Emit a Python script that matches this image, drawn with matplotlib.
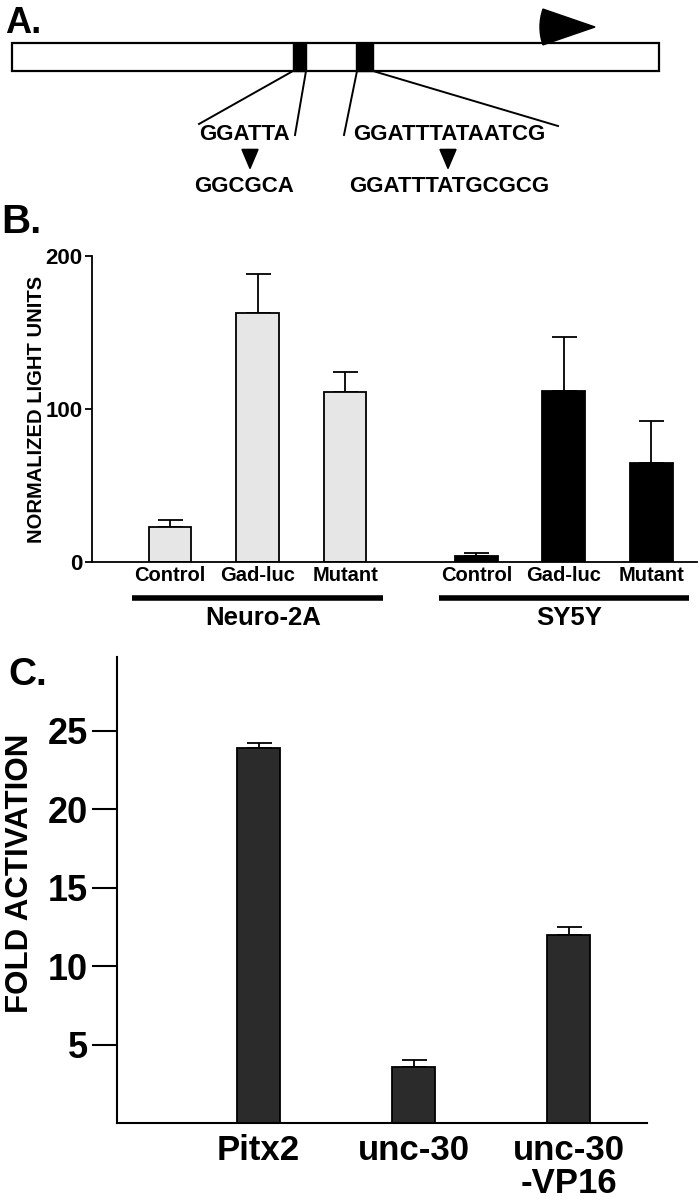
import matplotlib
matplotlib.use("Agg")
import matplotlib.pyplot as plt
import matplotlib.transforms as mtransforms
from matplotlib.patches import Rectangle, Wedge

plt.rcParams["font.family"] = ["Liberation Sans", "DejaVu Sans"]
plt.rcParams["font.weight"] = "bold"

# Panel B data
b_categories = ["Control", "Gad-luc", "Mutant", "Control", "Gad-luc", "Mutant"]
b_values = [23, 163, 111, 4, 112, 65]
b_errors = [4.5, 25, 13, 2, 35, 27]
b_groups = ["Neuro-2A", "SY5Y"]
b_positions = [0, 1, 2, 3.5, 4.5, 5.5]

# Panel C data
c_categories = ["Pitx2", "unc-30", "unc-30\n-VP16"]
c_values = [23.9, 3.6, 12.0]
c_errors = [0.3, 0.4, 0.5]
c_yticks = [5, 10, 15, 20, 25]

# Panel A schematic (pixel layout of the promoter diagram)
seq_wild = ["GGATTA", "GGATTTATAATCG"]
seq_mut = ["GGCGCA", "GGATTTATGCGCG"]
seq_x = [244, 449]
site_x = [(293, 306), (356, 373)]
site_lines = [((293, 71), (199, 124)), ((306, 71), (295, 135)),
              ((357, 71), (344, 135)), ((373, 71), (558, 126))]
arrow_x = [250, 448]

W, H = 700, 1200
fig = plt.figure(figsize=(7, 12), dpi=100)


def px_box(x0, y0, x1, y1):
    # pixel box (top-left origin) -> figure fraction rect
    return [x0 / W, 1 - y1 / H, (x1 - x0) / W, (y1 - y0) / H]


# ---------------- Panel A ----------------
axa = fig.add_axes(px_box(0, 0, 700, 200))
axa.set_xlim(0, 700)
axa.set_ylim(200, 0)
axa.axis("off")
axa.add_patch(Rectangle((12, 43), 647, 28, facecolor="white", edgecolor="black", lw=1.6))
for x0, x1 in site_x:
    axa.add_patch(Rectangle((x0, 43), x1 - x0, 28, facecolor="black", edgecolor="black", lw=1))
axa.add_patch(Wedge((595, 27), 55, 161, 199, facecolor="black", edgecolor="black"))
for (p0, p1) in site_lines:
    axa.plot([p0[0], p1[0]], [p0[1], p1[1]], color="black", lw=1.4)
for x, s1, s2 in zip(seq_x, seq_wild, seq_mut):
    axa.text(x, 135, s1, ha="center", va="center", fontsize=16, fontweight="bold")
    axa.text(x, 186, s2, ha="center", va="center", fontsize=16, fontweight="bold")
for x in arrow_x:
    axa.annotate("", xy=(x, 173), xytext=(x, 147),
                 arrowprops=dict(arrowstyle="-|>,head_length=1.3,head_width=0.55",
                                 color="black", lw=1.4))

# ---------------- Panel B ----------------
unit_b = 87.5
left_b = 92
axb = fig.add_axes(px_box(left_b, 256, 697, 562))
b_colors = ["#e6e6e6"] * 3 + ["black"] * 3
axb.bar(b_positions, b_values, width=0.49, color=b_colors, edgecolor="black", lw=1.3, zorder=2)
axb.errorbar(b_positions, b_values, yerr=[[0] * len(b_errors), b_errors], fmt="none",
             ecolor="black", elinewidth=1.3, capsize=9, capthick=1.3, zorder=1)
axb.set_ylim(0, 200)
axb.set_xlim((left_b - 170) / unit_b, (697 - 170) / unit_b)
axb.spines["top"].set_visible(False)
axb.spines["right"].set_visible(False)
axb.spines["left"].set_linewidth(1.3)
axb.spines["bottom"].set_linewidth(1.3)
axb.set_yticks([0, 100, 200])
axb.tick_params(axis="y", length=5, width=1.3, labelsize=16, pad=2)
axb.set_xticks(b_positions)
axb.set_xticklabels(b_categories, fontsize=14.5, fontweight="bold")
axb.tick_params(axis="x", length=0, pad=3)
for lab in axb.get_yticklabels():
    lab.set_fontweight("bold")
axb.set_ylabel("NORMALIZED LIGHT UNITS", fontsize=14.5, fontweight="bold")
axb.yaxis.set_label_coords((46 - left_b) / 605, 0.5)

trans_b = mtransforms.blended_transform_factory(axb.transData, axb.transAxes)
for g, name in enumerate(b_groups):
    xs = b_positions[3 * g:3 * g + 3]
    axb.plot([xs[0] - 0.43, xs[-1] + 0.43], [-0.118, -0.118], transform=trans_b,
             color="black", lw=4, clip_on=False, solid_capstyle="butt")
    axb.text(sum(xs) / 3 + 0.06, -0.183, name, transform=trans_b, ha="center", va="center",
             fontsize=18.5, fontweight="bold")

# ---------------- Panel C ----------------
axc = fig.add_axes(px_box(117, 657, 647, 1123))
axc.bar(range(len(c_values)), c_values, width=0.277, color="#2b2b2b", edgecolor="black",
        lw=1.3, zorder=2)
axc.errorbar(range(len(c_values)), c_values, yerr=[[0] * len(c_errors), c_errors], fmt="none",
             ecolor="black", elinewidth=1.3, capsize=9, capthick=1.3, zorder=1)
axc.set_ylim(0, 29.7)
axc.set_xlim((117 - 258.5) / 155, (647 - 258.5) / 155)
axc.spines["top"].set_visible(False)
axc.spines["right"].set_visible(False)
axc.spines["left"].set_linewidth(1.5)
axc.spines["bottom"].set_linewidth(1.5)
axc.set_yticks(c_yticks)
axc.tick_params(axis="y", length=18, width=1.5, labelsize=26, pad=3)
for lab in axc.get_yticklabels():
    lab.set_fontweight("bold")
axc.set_xticks(range(len(c_values)))
axc.set_xticklabels(c_categories, fontsize=25, fontweight="bold", linespacing=1.0)
axc.tick_params(axis="x", length=0, pad=8)
axc.set_ylabel("FOLD ACTIVATION", fontsize=22.5, fontweight="bold")
axc.yaxis.set_label_coords((35 - 117) / 530, (1123 - 873) / 466)

# Panel letters
fig.text(5 / W, 1 - 33 / H, "A.", fontsize=26, fontweight="bold")
fig.text(1 / W, 1 - 233 / H, "B.", fontsize=29, fontweight="bold")
fig.text(8 / W, 1 - 685 / H, "C.", fontsize=28, fontweight="bold")

fig.savefig("out.png", dpi=100)
